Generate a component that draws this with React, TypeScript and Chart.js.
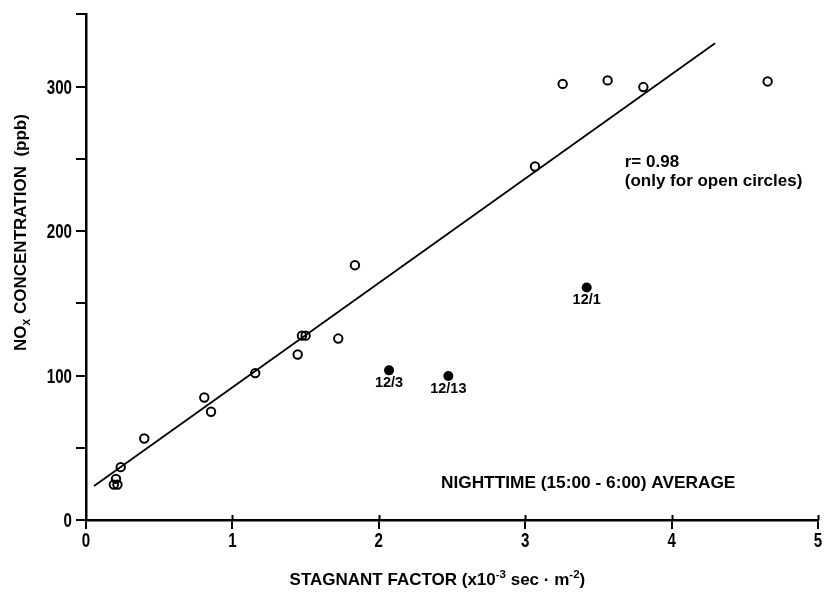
import React, { useEffect, useRef } from "react";
import { Chart, registerables } from "chart.js";

Chart.register(...registerables);

// ---- data ----
const openX = [0.19, 0.215, 0.205, 0.237, 0.398, 0.808, 0.854, 1.156, 1.446, 1.475, 1.5, 1.723, 1.837, 3.067, 3.256, 3.563, 3.807, 4.656];
const openY = [24.5, 24.5, 28.5, 36.6, 56.4, 84.8, 74.9, 101.7, 114.6, 127.6, 127.6, 125.6, 176.4, 244.7, 301.9, 304.3, 299.7, 303.6];
const filledX = [2.07, 2.475, 3.42];
const filledY = [103.6, 99.7, 161];
const filledLabels = ["12/3", "12/13", "12/1"];
const fitX = [0.055, 4.297];
const fitY = [23.6, 330];
const xMin = 0, xMax = 5, xStep = 1;
const yMin = 0, yMax = 350, yStep = 50, yLabelStep = 100;
const rText = "r= 0.98";
const rNote = "(only for open circles)";
const nightText = "NIGHTTIME (15:00 - 6:00) AVERAGE";

const SANS = "'Liberation Sans', Arial, Helvetica, sans-serif";

const textPlugin = {
  id: "annotTexts",
  afterDatasetsDraw(chart: any) {
    const ctx = chart.ctx;
    const xs = chart.scales.x;
    const ys = chart.scales.y;
    const area = chart.chartArea;
    ctx.save();
    ctx.fillStyle = "#000";

    // condensed tick labels
    ctx.font = `bold 21px ${SANS}`;
    ctx.textBaseline = "middle";
    ys.ticks.forEach((t: any) => {
      if (t.value % yLabelStep !== 0) return;
      const py = ys.getPixelForValue(t.value);
      ctx.save();
      ctx.translate(area.left - 14, py + 1.5);
      ctx.scale(0.72, 1);
      ctx.textAlign = "right";
      ctx.fillText(String(t.value), 0, 0);
      ctx.restore();
    });
    xs.ticks.forEach((t: any) => {
      const px = xs.getPixelForValue(t.value);
      ctx.save();
      ctx.translate(px, area.bottom + 21);
      ctx.scale(0.72, 1);
      ctx.textAlign = "center";
      ctx.fillText(String(t.value), 0, 0);
      ctx.restore();
    });

    // point labels
    ctx.font = `bold 14.5px ${SANS}`;
    ctx.textAlign = "center";
    ctx.textBaseline = "middle";
    filledX.forEach((xv, i) => {
      const px = xs.getPixelForValue(xv);
      const py = ys.getPixelForValue(filledY[i]);
      ctx.fillText(filledLabels[i], px, py + 13);
    });
    // r annotation
    ctx.textAlign = "left";
    ctx.font = `bold 17px ${SANS}`;
    const rx = xs.getPixelForValue(3.68);
    ctx.fillText(rText, rx, ys.getPixelForValue(247.5));
    ctx.fillText(rNote, rx, ys.getPixelForValue(234.5));
    // nighttime
    ctx.textAlign = "center";
    ctx.font = `bold 17.3px ${SANS}`;
    ctx.fillText(nightText, xs.getPixelForValue(3.43), ys.getPixelForValue(25.5));

    // minor x ticks above axis
    ctx.strokeStyle = "#000";
    ctx.lineWidth = 2;
    for (let v = xMin + xStep; v <= xMax; v += xStep) {
      const px = Math.round(xs.getPixelForValue(v)) + 0.5;
      ctx.beginPath();
      ctx.moveTo(px, area.bottom);
      ctx.lineTo(px, area.bottom - 5);
      ctx.stroke();
    }

    // x title with superscripts
    const tb = area.bottom + 65;
    const parts: [string, boolean][] = [
      ["STAGNANT FACTOR (x10", false],
      ["-3", true],
      [" sec \u00b7 m", false],
      ["-2", true],
      [")", false],
    ];
    const mainFont = `bold 17px ${SANS}`;
    const supFont = `bold 11.5px ${SANS}`;
    let total = 0;
    parts.forEach(([t, sup]) => {
      ctx.font = sup ? supFont : mainFont;
      total += ctx.measureText(t).width;
    });
    let cx = xs.getPixelForValue(2.4) - total / 2;
    ctx.textAlign = "left";
    ctx.textBaseline = "alphabetic";
    parts.forEach(([t, sup]) => {
      ctx.font = sup ? supFont : mainFont;
      ctx.fillText(t, cx, sup ? tb - 7 : tb);
      cx += ctx.measureText(t).width;
    });

    // y title with subscript, rotated
    const yparts: [string, boolean][] = [
      ["NO", false],
      ["x", true],
      [" CONCENTRATION  (ppb)", false],
    ];
    const subFont = `bold 12px ${SANS}`;
    let ytotal = 0;
    yparts.forEach(([t, sub]) => {
      ctx.font = sub ? subFont : mainFont;
      ytotal += ctx.measureText(t).width;
    });
    ctx.translate(26, ys.getPixelForValue(199));
    ctx.rotate(-Math.PI / 2);
    let yx = -ytotal / 2;
    yparts.forEach(([t, sub]) => {
      ctx.font = sub ? subFont : mainFont;
      ctx.fillText(t, yx, sub ? 4 : 0);
      yx += ctx.measureText(t).width;
    });
    ctx.restore();
  },
};

export default function App() {
  const ref = useRef<HTMLCanvasElement | null>(null);
  useEffect(() => {
    if (!ref.current) return;
    const openData = openX.map((x, i) => ({ x, y: openY[i] }));
    const filledData = filledX.map((x, i) => ({ x, y: filledY[i] }));
    const fitData = fitX.map((x, i) => ({ x, y: fitY[i] }));
    const chart = new Chart(ref.current, {
      type: "scatter",
      data: {
        datasets: [
          {
            type: "line",
            data: fitData,
            borderColor: "#000",
            borderWidth: 1.8,
            pointRadius: 0,
            fill: false,
            order: 3,
          } as any,
          {
            data: openData,
            pointStyle: "circle",
            pointRadius: 4.2,
            pointBorderWidth: 2,
            pointBackgroundColor: "rgba(255,255,255,0)",
            pointBorderColor: "#000",
            order: 1,
          },
          {
            data: filledData,
            pointStyle: "circle",
            pointRadius: 5,
            pointBorderWidth: 0,
            pointBackgroundColor: "#000",
            pointBorderColor: "#000",
            order: 2,
          },
        ],
      },
      options: {
        animation: false,
        responsive: false,
        layout: { padding: { left: 0, top: 9, right: 8, bottom: 0 } },
        plugins: { legend: { display: false }, tooltip: { enabled: false } },
        scales: {
          x: {
            type: "linear",
            min: xMin,
            max: xMax,
            afterFit: (s: any) => {
              s.height = 72;
              s.paddingLeft = 0;
              s.paddingRight = 0;
            },
            ticks: {
              stepSize: xStep,
              color: "rgba(0,0,0,0)",
              padding: 1,
              font: { family: SANS, weight: "bold", size: 19 },
              callback: (v: any) => String(v),
            },
            grid: {
              drawOnChartArea: false,
              drawTicks: true,
              tickLength: 9,
              color: "#000",
              lineWidth: 2,
            },
            border: { display: true, color: "#000", width: 2.5 },
          },
          y: {
            type: "linear",
            min: yMin,
            max: yMax,
            afterFit: (s: any) => {
              s.width = 86;
            },
            ticks: {
              stepSize: yStep,
              color: "rgba(0,0,0,0)",
              padding: 3,
              font: { family: SANS, weight: "bold", size: 19 },
              callback: (v: any) => (Number(v) % yLabelStep === 0 ? String(v) : ""),
            },
            grid: {
              drawOnChartArea: false,
              drawTicks: true,
              tickLength: 10,
              color: "#000",
              lineWidth: 2,
            },
            border: { display: true, color: "#000", width: 2.5 },
          },
        },
      },
      plugins: [textPlugin],
    });
    return () => chart.destroy();
  }, []);
  return (
    <div style={{ position: "fixed", left: 0, top: 0, width: 826, height: 592, background: "#fff" }}>
      <canvas ref={ref} width={826} height={592} style={{ width: 826, height: 592, display: "block" }} />
    </div>
  );
}
